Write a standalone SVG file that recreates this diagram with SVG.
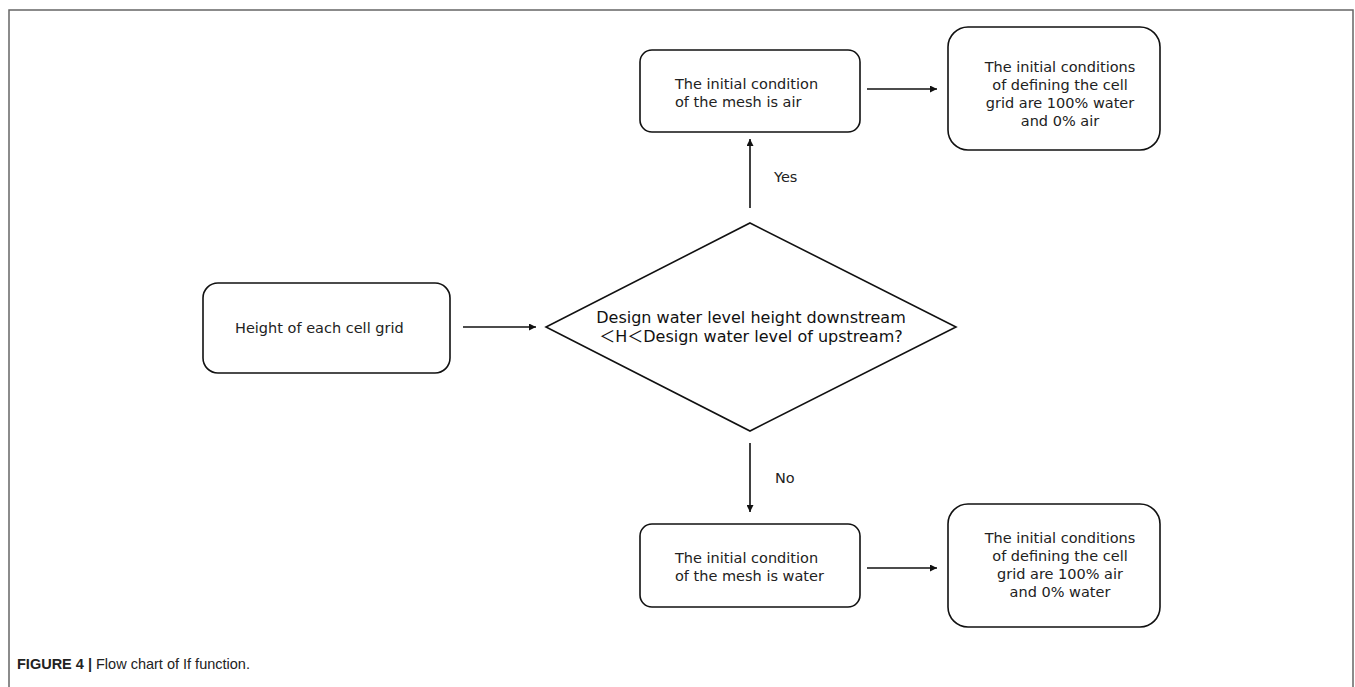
<svg xmlns="http://www.w3.org/2000/svg" width="1355" height="687" viewBox="0 0 1355 687">
<defs>
<marker id="ah" viewBox="0 0 10 10" refX="10" refY="5" markerWidth="7" markerHeight="7" markerUnits="userSpaceOnUse" orient="auto">
<path d="M0,0 L10,5 L0,10 z" fill="#111"/>
</marker>
</defs>
<style>
.box{fill:#fff;stroke:#111;stroke-width:1.6}
.t{font-family:"DejaVu Sans",Verdana,sans-serif;font-size:14.5px;fill:#222}
.d{font-family:"DejaVu Sans",Verdana,"Noto Sans CJK SC",sans-serif;font-size:16px;fill:#111}
.c{stroke:#111;stroke-width:1.6;fill:none;marker-end:url(#ah)}
.lbl{font-family:"DejaVu Sans",Verdana,sans-serif;font-size:14.5px;fill:#222}
</style>
<rect width="1355" height="687" fill="#fff"/>
<path d="M9,687 V10 H1353 V687" fill="none" stroke="#666" stroke-width="1.5"/>

<g id="start">
<rect class="box" x="203" y="283" width="247" height="90" rx="15"/>
<text class="t" x="235" y="333">Height of each cell grid</text>
</g>

<g id="decision">
<polygon class="box" points="750,223 956,327 750,431 546,327"/>
<text class="d" x="751" y="323" text-anchor="middle">Design water level height downstream</text>
<text class="d" x="751" y="342" text-anchor="middle">＜H＜Design water level of upstream?</text>
</g>

<g id="air">
<rect class="box" x="640" y="50" width="220" height="82" rx="12"/>
<text class="t" x="675" y="89">The initial condition</text>
<text class="t" x="675" y="107">of the mesh is air</text>
</g>

<g id="water">
<rect class="box" x="640" y="524" width="220" height="83" rx="12"/>
<text class="t" x="675" y="563">The initial condition</text>
<text class="t" x="675" y="581">of the mesh is water</text>
</g>

<g id="result-air">
<rect class="box" x="948" y="27" width="212" height="123" rx="20"/>
<text class="t" text-anchor="middle" x="1060" y="72">The initial conditions</text>
<text class="t" text-anchor="middle" x="1060" y="90">of defining the cell</text>
<text class="t" text-anchor="middle" x="1060" y="108">grid are 100% water</text>
<text class="t" text-anchor="middle" x="1060" y="126">and 0% air</text>
</g>

<g id="result-water">
<rect class="box" x="948" y="504" width="212" height="123" rx="20"/>
<text class="t" text-anchor="middle" x="1060" y="543">The initial conditions</text>
<text class="t" text-anchor="middle" x="1060" y="561">of defining the cell</text>
<text class="t" text-anchor="middle" x="1060" y="579">grid are 100% air</text>
<text class="t" text-anchor="middle" x="1060" y="597">and 0% water</text>
</g>

<g id="connectors">
<line class="c" x1="463" y1="327" x2="536" y2="327"/>
<line class="c" x1="750" y1="208" x2="750" y2="139"/>
<line class="c" x1="750" y1="443" x2="750" y2="512"/>
<line class="c" x1="867" y1="89" x2="937" y2="89"/>
<line class="c" x1="867" y1="568" x2="937" y2="568"/>
<text class="lbl" x="774" y="182">Yes</text>
<text class="lbl" x="775" y="483">No</text>
</g>

<text x="17" y="669" font-family="Liberation Sans,Arial,sans-serif" font-size="14.5px" fill="#222"><tspan font-weight="bold">FIGURE 4 |</tspan> Flow chart of If function.</text>
</svg>
